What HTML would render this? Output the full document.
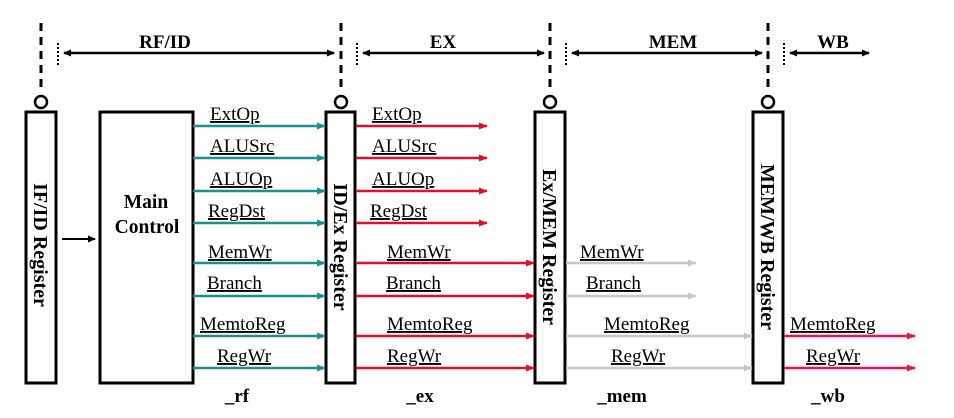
<!DOCTYPE html>
<html><head><meta charset="utf-8"><style>
html,body{margin:0;padding:0;background:#fff;width:954px;height:418px;overflow:hidden}
svg{display:block}
text{font-family:"Liberation Serif",serif}
.l{font-size:19px;text-decoration:underline}
</style></head><body>
<svg width="954" height="418" viewBox="0 0 954 418" xmlns="http://www.w3.org/2000/svg">
<defs>
<marker id="ak" markerWidth="8" markerHeight="8" refX="7" refY="4" orient="auto" markerUnits="userSpaceOnUse"><path d="M0,0.5 L8,4 L0,7.5z" fill="#000"/></marker>
<marker id="aks" markerWidth="8" markerHeight="8" refX="1" refY="4" orient="auto" markerUnits="userSpaceOnUse"><path d="M8,0.5 L0,4 L8,7.5z" fill="#000"/></marker>
<marker id="at" markerWidth="9" markerHeight="8" refX="8" refY="4" orient="auto" markerUnits="userSpaceOnUse"><path d="M0,0.5 L9,4 L0,7.5z" fill="#1a9090"/></marker>
<marker id="ar" markerWidth="9" markerHeight="8" refX="8" refY="4" orient="auto" markerUnits="userSpaceOnUse"><path d="M0,0.5 L9,4 L0,7.5z" fill="#e0102c"/></marker>
<marker id="ag" markerWidth="9" markerHeight="8" refX="8" refY="4" orient="auto" markerUnits="userSpaceOnUse"><path d="M0,0.5 L9,4 L0,7.5z" fill="#c8c8c8"/></marker>
<marker id="ap" markerWidth="9" markerHeight="8" refX="8" refY="4" orient="auto" markerUnits="userSpaceOnUse"><path d="M0,0.5 L9,4 L0,7.5z" fill="#e8145a"/></marker>
</defs>
<g stroke="#000" stroke-width="3" stroke-dasharray="8,6">
<line x1="41" y1="23" x2="41" y2="90"/><line x1="341" y1="23" x2="341" y2="90"/>
<line x1="550" y1="23" x2="550" y2="90"/><line x1="768" y1="23" x2="768" y2="90"/>
</g>
<g stroke="#000" stroke-width="2" stroke-dasharray="2,2">
<line x1="58" y1="43" x2="58" y2="65"/><line x1="357" y1="43" x2="357" y2="65"/>
<line x1="566" y1="43" x2="566" y2="65"/><line x1="784" y1="43" x2="784" y2="65"/>
</g>
<g fill="#fff" stroke="#000" stroke-width="2.5">
<circle cx="41" cy="102" r="6"/><circle cx="341" cy="102" r="6"/><circle cx="550" cy="102" r="6"/><circle cx="768" cy="102" r="6"/>
</g>
<g stroke="#000" stroke-width="2.5">
<line x1="64" y1="53" x2="334" y2="53" marker-start="url(#aks)" marker-end="url(#ak)"/>
<line x1="363" y1="53" x2="544" y2="53" marker-start="url(#aks)" marker-end="url(#ak)"/>
<line x1="572" y1="53" x2="762" y2="53" marker-start="url(#aks)" marker-end="url(#ak)"/>
<line x1="790" y1="53" x2="869" y2="53" marker-start="url(#aks)" marker-end="url(#ak)"/>
<line x1="62" y1="239" x2="95" y2="239" stroke-width="2" marker-end="url(#ak)"/>
</g>
<g font-weight="bold" font-size="19" text-anchor="middle">
<text x="165" y="48">RF/ID</text><text x="443" y="48">EX</text><text x="673" y="48">MEM</text><text x="833" y="48">WB</text>
</g>
<g fill="#fff" stroke="#000" stroke-width="3">
<rect x="26" y="112" width="30" height="271"/><rect x="326" y="112" width="29" height="271"/>
<rect x="535" y="112" width="30" height="271"/><rect x="753" y="112" width="30" height="271"/>
<rect x="100" y="112" width="93" height="271"/>
</g>
<g font-weight="bold" font-size="20">
<text transform="translate(34,245) rotate(90)" text-anchor="middle">IF/ID Register</text>
<text transform="translate(334,247) rotate(90)" text-anchor="middle">ID/Ex Register</text>
<text transform="translate(543,247) rotate(90)" text-anchor="middle">Ex/MEM Register</text>
<text transform="translate(761,247) rotate(90)" text-anchor="middle">MEM/WB Register</text>
</g>
<g font-weight="bold" font-size="19.5">
<text x="146" y="208" text-anchor="middle">Main</text><text x="147" y="233" text-anchor="middle">Control</text>
</g>
<g font-weight="bold" font-size="19">
<text x="237" y="402" text-anchor="middle">_rf</text><text x="420" y="402" text-anchor="middle">_ex</text>
<text x="622" y="402" text-anchor="middle">_mem</text><text x="828" y="402" text-anchor="middle">_wb</text>
</g>
<g stroke="#1a9090" stroke-width="2.5" marker-end="url(#at)">
<line x1="193" y1="126" x2="325" y2="126"/><line x1="193" y1="158" x2="325" y2="158"/>
<line x1="193" y1="191" x2="325" y2="191"/><line x1="193" y1="223" x2="325" y2="223"/>
<line x1="193" y1="263" x2="325" y2="263"/><line x1="193" y1="296" x2="325" y2="296"/>
<line x1="193" y1="336" x2="325" y2="336"/><line x1="193" y1="368" x2="325" y2="368"/>
</g>
<g stroke="#e0102c" stroke-width="2.5" marker-end="url(#ar)">
<line x1="356" y1="126" x2="487" y2="126"/><line x1="356" y1="158" x2="487" y2="158"/>
<line x1="356" y1="191" x2="487" y2="191"/><line x1="356" y1="223" x2="487" y2="223"/>
<line x1="356" y1="263" x2="534" y2="263"/><line x1="356" y1="296" x2="534" y2="296"/>
<line x1="356" y1="336" x2="534" y2="336"/><line x1="356" y1="368" x2="534" y2="368"/>
</g>
<g stroke="#c8c8c8" stroke-width="2.5" marker-end="url(#ag)">
<line x1="566" y1="263" x2="696" y2="263"/><line x1="566" y1="296" x2="696" y2="296"/>
<line x1="566" y1="336" x2="752" y2="336"/><line x1="566" y1="368" x2="752" y2="368"/>
</g>
<g stroke="#e8145a" stroke-width="2.5" marker-end="url(#ap)">
<line x1="784" y1="336" x2="915" y2="336"/><line x1="784" y1="368" x2="915" y2="368"/>
</g>
<g>
<text class="l" x="210" y="120">ExtOp</text><text class="l" x="210" y="152">ALUSrc</text>
<text class="l" x="210" y="185">ALUOp</text><text class="l" x="208" y="217">RegDst</text>
<text class="l" x="208" y="258">MemWr</text><text class="l" x="207" y="289">Branch</text>
<text class="l" x="200" y="330">MemtoReg</text><text class="l" x="217" y="362">RegWr</text>
<text class="l" x="372" y="120">ExtOp</text><text class="l" x="372" y="152">ALUSrc</text>
<text class="l" x="372" y="185">ALUOp</text><text class="l" x="370" y="217">RegDst</text>
<text class="l" x="387" y="258">MemWr</text><text class="l" x="386" y="289">Branch</text>
<text class="l" x="387" y="330">MemtoReg</text><text class="l" x="387" y="362">RegWr</text>
<text class="l" x="580" y="258">MemWr</text><text class="l" x="586" y="289">Branch</text>
<text class="l" x="604" y="330">MemtoReg</text><text class="l" x="611" y="362">RegWr</text>
<text class="l" x="790" y="330">MemtoReg</text><text class="l" x="806" y="362">RegWr</text>
</g>
</svg>
</body></html>
